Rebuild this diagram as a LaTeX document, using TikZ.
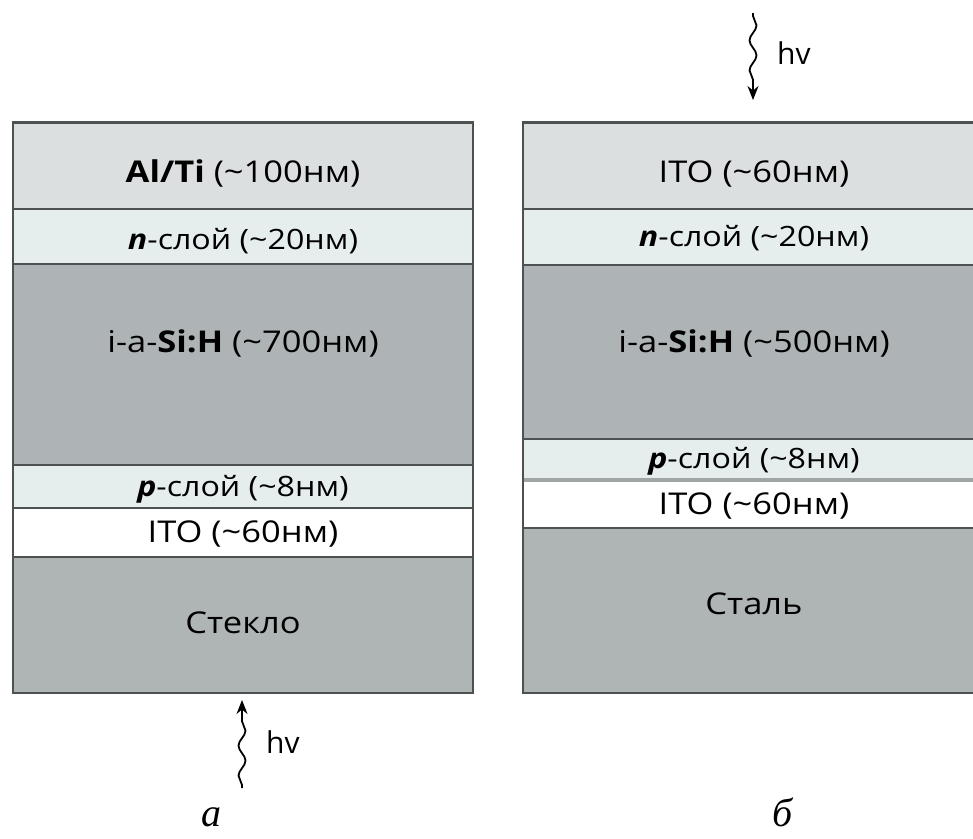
\documentclass[tikz,border=0pt]{standalone}
\usepackage{fontspec}
\setmainfont{Open Sans}[FakeStretch=1.15]
\newfontfamily\hvfont{Open Sans}
\newfontfamily\capfont{Liberation Serif}
\usetikzlibrary{arrows.meta,decorations.pathmorphing}
\definecolor{linegray}{HTML}{4E5152}
\definecolor{cTop}{HTML}{DCDFE0}
\definecolor{cThin}{HTML}{E6EDED}
\definecolor{cSi}{HTML}{AEB4B5}
\definecolor{cSub}{HTML}{AFB4B4}
\definecolor{cSep}{HTML}{A0A6A6}
\begin{document}
\begin{tikzpicture}[x=1pt,y=-1pt,
  lyrL/.style={draw=linegray,line width=1.6pt,inner sep=0pt,outer sep=0pt,
    anchor=north west,minimum width=460pt},
  lyrR/.style={lyrL,minimum width=462pt},
  mainlbl/.style={inner sep=0pt,font=\fontsize{30}{32}\selectfont},
  thinlbl/.style={inner sep=0pt,font=\fontsize{28}{30}\selectfont},
  wavy/.style={line width=1.8pt,-{Stealth[length=14pt,width=11pt]},
    decorate,decoration={snake,amplitude=3.5pt,segment length=30pt,pre length=3pt,post length=15pt}},
  hvlab/.style={inner sep=0pt,font=\hvfont\fontsize{30}{32}\selectfont},
  caplab/.style={inner sep=0pt,font=\capfont\itshape\fontsize{40}{42}\selectfont,anchor=base}]
\useasboundingbox (0,0) rectangle (973,838);
\clip (0,0) rectangle (973,838);
% left stack
\node[lyrL,fill=cTop,minimum height=87pt] (a1) at (13,122) {};
\node[lyrL,fill=cThin,minimum height=55pt] (a2) at (a1.south west) {};
\node[lyrL,fill=cSi,minimum height=201pt] (a3) at (a2.south west) {};
\node[lyrL,fill=cThin,minimum height=43pt] (a4) at (a3.south west) {};
\node[lyrL,fill=white,minimum height=49pt] (a5) at (a4.south west) {};
\node[lyrL,fill=cSub,minimum height=136pt] (a6) at (a5.south west) {};
\draw[linegray,line width=3pt] (a1.north west) -- (a1.north east);
\node[mainlbl] (ta1) at ([yshift=-8pt]a1.center) {\textbf{Al/Ti} (\textasciitilde100нм)};
\node[thinlbl] (ta2) at ([yshift=-5pt]a2.center) {\textbf{\textit{n}}-слой (\textasciitilde20нм)};
\node[mainlbl] (ta3) at ([yshift=21pt]a3.center) {i-a-\textbf{Si:H} (\textasciitilde700нм)};
\node[thinlbl] (ta4) at ([yshift=-3pt]a4.center) {\textbf{\textit{p}}-слой (\textasciitilde8нм)};
\node[mainlbl] (ta5) at ([yshift=-1pt]a5.center) {ITO (\textasciitilde60нм)};
\node[mainlbl] (ta6) at ([yshift=2pt]a6.center) {Стекло};
% right stack
\node[lyrR,fill=cTop,minimum height=87pt] (b1) at (523,122) {};
\node[lyrR,fill=cThin,minimum height=56pt] (b2) at (b1.south west) {};
\node[lyrR,fill=cSi,minimum height=174pt] (b3) at (b2.south west) {};
\node[lyrR,fill=cThin,minimum height=41pt] (b4) at (b3.south west) {};
\node[lyrR,fill=white,minimum height=48pt] (b5) at (b4.south west) {};
\node[lyrR,fill=cSub,minimum height=165pt] (b6) at (b5.south west) {};
\draw[linegray,line width=3pt] (b1.north west) -- (b1.north east);
\draw[cSep,line width=4pt] ([xshift=0.8pt]b4.south west) -- (b4.south east);
\node[mainlbl] (tb1) at ([yshift=-8pt]b1.center) {ITO (\textasciitilde60нм)};
\node[thinlbl] (tb2) at ([yshift=-1pt]b2.center) {\textbf{\textit{n}}-слой (\textasciitilde20нм)};
\node[mainlbl] (tb3) at ([yshift=9pt]b3.center) {i-a-\textbf{Si:H} (\textasciitilde500нм)};
\node[thinlbl] (tb4) at ([yshift=-2pt]b4.center) {\textbf{\textit{p}}-слой (\textasciitilde8нм)};
\node[mainlbl] (tb5) at ([yshift=-2pt]b5.center) {ITO (\textasciitilde60нм)};
\node[mainlbl] (tb6) at ([yshift=7pt]b6.center) {Сталь};
% light arrows
\coordinate (hvA) at (242,788);
\draw[wavy] (hvA) -- ([yshift=-7pt]a6.south -| hvA);
\node[hvlab,anchor=west] (hv1) at (266,742) {hv};
\coordinate (hvB) at (753,13);
\draw[wavy] (hvB) -- ([yshift=22pt]b1.north -| hvB);
\node[hvlab,anchor=west] (hv2) at (777,53) {hv};
% captions
\node[caplab] (capa) at (211,826) {а};
\node[caplab] (capb) at (783,826) {б};
\end{tikzpicture}
\end{document}
